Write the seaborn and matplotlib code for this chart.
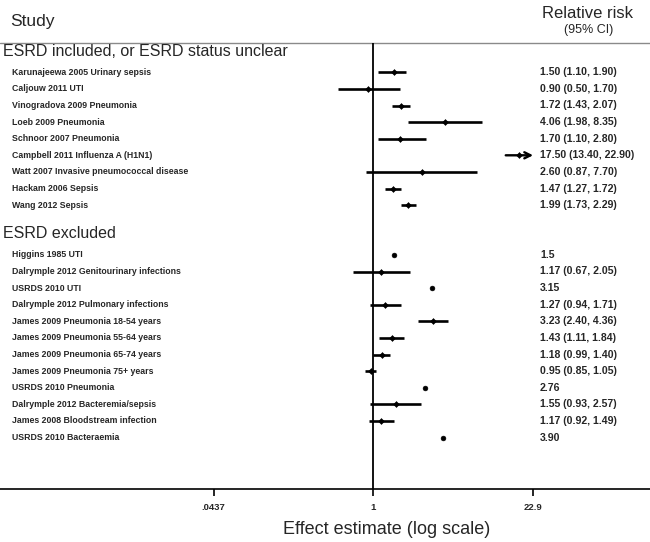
import numpy as np
import pandas as pd
import matplotlib
matplotlib.use("Agg")
import matplotlib.pyplot as plt
import seaborn as sns
from matplotlib import font_manager

# ---------------- data ----------------
group_titles = ["ESRD included, or ESRD status unclear", "ESRD excluded"]

studies_g1 = [
    "Karunajeewa 2005 Urinary sepsis",
    "Caljouw 2011 UTI",
    "Vinogradova 2009 Pneumonia",
    "Loeb 2009 Pneumonia",
    "Schnoor 2007 Pneumonia",
    "Campbell 2011 Influenza A (H1N1)",
    "Watt 2007 Invasive pneumococcal disease",
    "Hackam 2006 Sepsis",
    "Wang 2012 Sepsis",
]
rr_g1 = [1.50, 0.90, 1.72, 4.06, 1.70, 17.50, 2.60, 1.47, 1.99]
lo_g1 = [1.10, 0.50, 1.43, 1.98, 1.10, 13.40, 0.87, 1.27, 1.73]
hi_g1 = [1.90, 1.70, 2.07, 8.35, 2.80, 22.90, 7.70, 1.72, 2.29]
text_g1 = [
    "1.50 (1.10, 1.90)", "0.90 (0.50, 1.70)", "1.72 (1.43, 2.07)",
    "4.06 (1.98, 8.35)", "1.70 (1.10, 2.80)", "17.50 (13.40, 22.90)",
    "2.60 (0.87, 7.70)", "1.47 (1.27, 1.72)", "1.99 (1.73, 2.29)",
]

studies_g2 = [
    "Higgins 1985 UTI",
    "Dalrymple 2012 Genitourinary infections",
    "USRDS 2010 UTI",
    "Dalrymple 2012 Pulmonary infections",
    "James 2009 Pneumonia 18-54 years",
    "James 2009 Pneumonia 55-64 years",
    "James 2009 Pneumonia 65-74 years",
    "James 2009 Pneumonia 75+ years",
    "USRDS 2010 Pneumonia",
    "Dalrymple 2012 Bacteremia/sepsis",
    "James 2008 Bloodstream infection",
    "USRDS 2010 Bacteraemia",
]
rr_g2 = [1.5, 1.17, 3.15, 1.27, 3.23, 1.43, 1.18, 0.95, 2.76, 1.55, 1.17, 3.90]
lo_g2 = [np.nan, 0.67, np.nan, 0.94, 2.40, 1.11, 0.99, 0.85, np.nan, 0.93, 0.92, np.nan]
hi_g2 = [np.nan, 2.05, np.nan, 1.71, 4.36, 1.84, 1.40, 1.05, np.nan, 2.57, 1.49, np.nan]
text_g2 = [
    "1.5", "1.17 (0.67, 2.05)", "3.15", "1.27 (0.94, 1.71)",
    "3.23 (2.40, 4.36)", "1.43 (1.11, 1.84)", "1.18 (0.99, 1.40)",
    "0.95 (0.85, 1.05)", "2.76", "1.55 (0.93, 2.57)", "1.17 (0.92, 1.49)",
    "3.90",
]

tick_values = [0.0437, 1, 22.9]
tick_labels = [".0437", "1", "22.9"]

# ---------------- table ----------------
rows_g1 = list(range(len(studies_g1)))
rows_g2 = list(range(len(studies_g1) + 2, len(studies_g1) + 2 + len(studies_g2)))
df = pd.DataFrame({
    "study": studies_g1 + studies_g2,
    "rr": rr_g1 + rr_g2,
    "lo": lo_g1 + lo_g2,
    "hi": hi_g1 + hi_g2,
    "text": text_g1 + text_g2,
    "row": rows_g1 + rows_g2,
})
df["has_ci"] = df["lo"].notna()
title_rows = [rows_g1[0] - 1.27, rows_g2[0] - 1.27]

# ---------------- style ----------------
sns.set_theme(style="white")
names = {f.name for f in font_manager.fontManager.ttflist}
if "Liberation Sans Narrow" in names:
    small_family = ["Liberation Sans Narrow", "DejaVu Sans"]
    left_size, right_size, tick_size = 7.4, 8.6, 7.6
else:
    small_family = ["Liberation Sans", "DejaVu Sans"]
    left_size, right_size, tick_size = 6.3, 7.6, 6.8
plt.rcParams["font.family"] = ["Liberation Sans", "DejaVu Sans"]

W, H = 650, 542
fig = plt.figure(figsize=(W / 100, H / 100), dpi=100)
axis_px = 489
ax = fig.add_axes([0, (H - axis_px) / H, 1, axis_px / H])

row_px = 16.6
row0_px = 72.3
ax.set_ylim((axis_px - row0_px) / row_px, -row0_px / row_px)
one_px = 373.3
dec_px = 117.5
ax.set_xscale("log")
ax.set_xlim(10 ** (-one_px / dec_px), 10 ** ((W - one_px) / dec_px))

# confidence intervals
ci = df[df["has_ci"]]
clipped = ci["hi"] >= max(tick_values)
normal = ci[~clipped]
ax.hlines(normal["row"], normal["lo"], normal["hi"], color="black", lw=1.9, zorder=2)
for _, r in ci[clipped].iterrows():
    ax.annotate("", xy=(r["hi"], r["row"]), xytext=(r["lo"], r["row"]),
                arrowprops=dict(arrowstyle="->", lw=1.7, color="black",
                                mutation_scale=11, shrinkA=0, shrinkB=0),
                zorder=3)

# point estimates
sns.scatterplot(data=df[df["has_ci"]], x="rr", y="row", marker="D", s=9,
                color="black", edgecolor="black", linewidth=0.4, ax=ax, zorder=4,
                legend=False)
sns.scatterplot(data=df[~df["has_ci"]], x="rr", y="row", marker="o", s=12,
                color="black", edgecolor="black", linewidth=0.4, ax=ax, zorder=4,
                legend=False)

# reference lines
top_row = (43.3 - row0_px) / row_px
ax.axhline(top_row, color="#8a8a8a", lw=1.0, zorder=1)
ax.vlines(1, top_row, (axis_px - row0_px) / row_px, color="black", lw=1.3, zorder=1)

# text columns
blend = matplotlib.transforms.blended_transform_factory(ax.transAxes, ax.transData)
for _, r in df.iterrows():
    ax.text(11.5 / W, r["row"], r["study"], transform=blend, ha="left", va="center",
            fontsize=left_size, fontweight="bold", family=small_family)
    ax.text(540 / W, r["row"], r["text"], transform=blend, ha="left", va="center",
            fontsize=right_size, fontweight="bold", family=small_family)
for t, yr in zip(group_titles, title_rows):
    ax.text(3 / W, yr, t, transform=blend, ha="left", va="center", fontsize=11.5)

# header
fig.text(10 / W, 1 - 21.7 / H, "Study", ha="left", va="center", fontsize=12.5)
fig.text(587 / W, 1 - 14 / H, "Relative risk", ha="center", va="center", fontsize=12)
fig.text(589 / W, 1 - 29.5 / H, "(95% CI)", ha="center", va="center", fontsize=9)

# axis
for s in ["top", "left", "right"]:
    ax.spines[s].set_visible(False)
ax.spines["bottom"].set_color("black")
ax.spines["bottom"].set_linewidth(1.2)
ax.set_yticks([])
ax.set_xticks(tick_values)
ax.set_xticklabels(tick_labels)
ax.xaxis.set_minor_locator(matplotlib.ticker.NullLocator())
ax.tick_params(axis="x", direction="out", length=5, width=1.2, color="black",
               pad=5.0, bottom=True)
for lab in ax.get_xticklabels():
    lab.set_fontsize(tick_size)
    lab.set_fontweight("bold")
    lab.set_family(small_family)
fig.text(387 / W, 1 - 529.5 / H, "Effect estimate (log scale)", ha="center",
         va="center", fontsize=13)
ax.grid(False)
ax.set_xlabel("")
ax.set_ylabel("")
ax.patch.set_alpha(0)

fig.savefig("out.png", dpi=100)
